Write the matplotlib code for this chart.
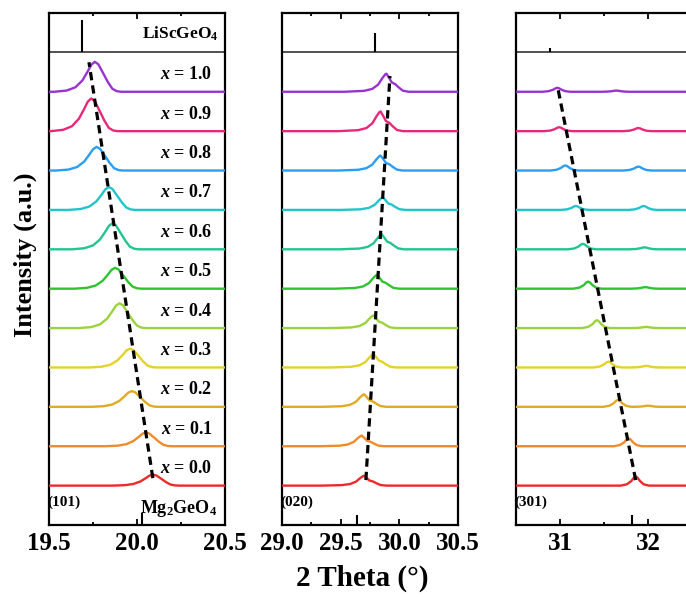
import matplotlib

matplotlib.use("Agg")
import matplotlib.pyplot as plt
import numpy as np
from matplotlib.ticker import MultipleLocator

plt.rcParams.update({
    "font.family": "Liberation Serif",
    "font.weight": "bold",
    "mathtext.fontset": "custom",
    "mathtext.rm": "Liberation Serif:bold",
    "mathtext.it": "Liberation Serif:italic:bold",
})

# ── Data: Li/Sc content x, from x = 0.0 (bottom) to x = 1.0 (top) ──
x_values = [0.0, 0.1, 0.2, 0.3, 0.4, 0.5, 0.6, 0.7, 0.8, 0.9, 1.0]
colors = ["#ec2a2a", "#f08a2a", "#e0aa22", "#e2d22a", "#9ad43a", "#2ec42e",
          "#22c490", "#22c4cc", "#2a9df4", "#e8287a", "#9933cc"]

# (101) reflection
pos_101 = [20.09, 20.05, 19.97, 19.96, 19.90, 19.875, 19.86, 19.84, 19.77, 19.74, 19.76]
hgt_101 = [0.28, 0.35, 0.40, 0.48, 0.63, 0.53, 0.66, 0.58, 0.60, 0.83, 0.76]
# (020) reflection
pos_020 = [29.70, 29.68, 29.70, 29.78, 29.78, 29.81, 29.85, 29.86, 29.84, 29.84, 29.89]
hgt_020 = [0.25, 0.27, 0.32, 0.34, 0.32, 0.35, 0.38, 0.32, 0.38, 0.50, 0.46]
# (301) reflection plus a weak neighbouring peak
pos_301 = [31.86, 31.78, 31.66, 31.55, 31.42, 31.32, 31.26, 31.18, 31.06, 30.99, 30.97]
hgt_301 = [0.23, 0.20, 0.18, 0.15, 0.20, 0.18, 0.14, 0.10, 0.13, 0.10, 0.10]
pos_side = [None, None, 32.00, 31.98, 31.98, 31.97, 31.96, 31.95, 31.89, 31.89, 31.64]
hgt_side = [0, 0, 0.03, 0.04, 0.03, 0.04, 0.05, 0.10, 0.10, 0.08, 0.03]

# Peak profiles (offset in degrees, relative intensity)
shape_101 = ([-0.23, -0.16, -0.11, -0.07, -0.04, -0.02, 0.0, 0.02, 0.045, 0.075, 0.10, 0.125, 0.15],
             [0, 0.04, 0.15, 0.38, 0.68, 0.90, 1.0, 0.92, 0.65, 0.32, 0.10, 0.02, 0])
shape_020 = ([-0.36, -0.19, -0.12, -0.07, -0.035, -0.01, 0.0, 0.02, 0.045, 0.075, 0.105, 0.14, 0.19],
             [0, 0.05, 0.16, 0.40, 0.75, 0.96, 1.0, 0.80, 0.52, 0.42, 0.24, 0.06, 0])
shape_301 = ([-0.17, -0.10, -0.05, -0.02, 0.0, 0.02, 0.05, 0.09, 0.15],
             [0, 0.15, 0.5, 0.88, 1.0, 0.88, 0.5, 0.15, 0])

# Reference patterns (position, stick height)
lisc_ref = [(19.69, 0.83), (29.79, 0.50), (30.89, 0.10)]
mg_ref = [(20.03, 0.30), (29.64, 0.25), (31.82, 0.25)]

# Peak-shift guide lines: (2θ at x=0.0, y), (2θ at x=1.0, y)
guides = [((20.09, 0.19), (19.727, 10.75)),
          ((29.715, 0.14), (29.92, 10.40)),
          ((31.86, 0.14), (30.98, 10.04))]

xlims = [(19.5, 20.5), (29.0, 30.5), (30.5, 32.5)]
majors = [0.5, 0.5, 1.0]
minors = [0.25, 0.25, 0.5]
hkl = ["(101)", "(020)", "(301)"]
lefts = [49, 282, 516]


def profile(center, height, shape, lo, hi):
    off, rel = shape
    xs = [lo] + [center + o for o in off] + [hi]
    ys = [0] + [height * r for r in rel] + [0]
    return xs, ys


fig = plt.figure(figsize=(6.86, 5.97), dpi=100)
W, H = 686, 597
panels = [(pos_101, hgt_101, shape_101), (pos_020, hgt_020, shape_020),
          (pos_301, hgt_301, shape_301)]

for k, (pos, hgt, shape) in enumerate(panels):
    ax = fig.add_axes([lefts[k] / W, 1 - 525 / H, 176 / W, 512 / H])
    lo, hi = xlims[k]
    for i, xv in enumerate(x_values):
        xs, ys = profile(pos[i], hgt[i], shape, lo, hi)
        if k == 2 and pos_side[i] is not None:
            sx, sy = profile(pos_side[i], hgt_side[i], shape_301, lo, hi)
            xs = xs[:-1] + sx[1:]
            ys = ys[:-1] + sy[1:]
        ax.plot(xs, np.array(ys) + i, color=colors[i], lw=1.7,
                solid_joinstyle="round", zorder=3)
        if k == 0:
            ax.text(20.43, i + 0.43, rf"$x$ = {xv:.1f}", ha="right", va="center",
                    fontsize=13, fontweight="bold")

    (x0, y0), (x1, y1) = guides[k]
    ax.plot([x0, x1], [y0, y1], color="black", lw=2.3,
            linestyle=(0, (2.6, 1.6)), zorder=4)

    ax.axhline(11, color="#333333", lw=1.2)
    px, ph = lisc_ref[k]
    ax.vlines(px, 11, 11 + ph, color="black", lw=1.5)
    px, ph = mg_ref[k]
    ax.vlines(px, -1, -1 + ph, color="black", lw=1.5)

    ax.text(lo - 0.01 * (hi - lo), -0.42, hkl[k], ha="left", va="center",
            fontsize=11, fontweight="bold")
    if k == 0:
        ax.text(20.46, 11.47, r"LiScGeO$_4$", ha="right", va="center",
                fontsize=12.5, fontweight="bold")
        ax.text(20.455, -0.57, r"Mg$_2$GeO$_4$", ha="right", va="center",
                fontsize=13, fontweight="bold")

    ax.set_xlim(lo, hi)
    ax.set_ylim(-1, 12)
    ax.set_yticks([])
    ax.xaxis.set_major_locator(MultipleLocator(majors[k]))
    ax.xaxis.set_minor_locator(MultipleLocator(minors[k]))
    if k < 2:
        ax.xaxis.set_major_formatter(lambda v, p: f"{v:.1f}")
    else:
        ax.xaxis.set_major_formatter(lambda v, p: f"{v:.0f}")
    ax.tick_params(axis="x", which="both", direction="in", top=True, bottom=True,
                   width=1.3, labelsize=18, pad=5)
    ax.tick_params(axis="x", which="major", length=4)
    ax.tick_params(axis="x", which="minor", length=2.5)
    for lab in ax.get_xticklabels():
        lab.set_fontweight("bold")
    for s in ax.spines.values():
        s.set_linewidth(1.6)

fig.text(25 / W, 1 - 255 / H, "Intensity (a.u.)", rotation=90, ha="center",
         va="center", fontsize=19, fontweight="bold")
fig.text(362 / W, 1 - 578 / H, "2 Theta (°)", ha="center", va="center",
         fontsize=21, fontweight="bold")

fig.savefig("out.png", dpi=100, facecolor="white")
